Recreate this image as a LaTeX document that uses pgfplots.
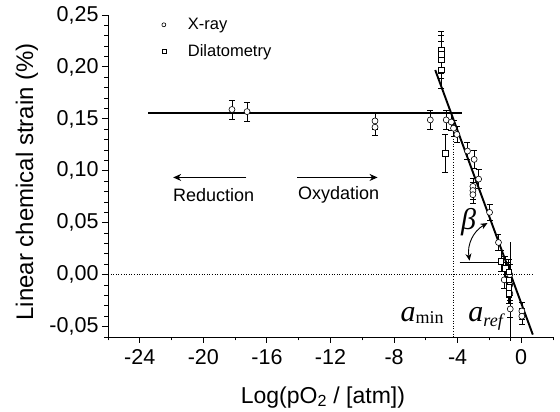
\documentclass[border=0pt]{standalone}
\usepackage{fontspec}
\setmainfont{Liberation Sans}
\newfontfamily\serif{Liberation Serif}
\usepackage{pgfplots}
\usepackage{pgfplotstable}
\pgfplotsset{compat=1.18}
\usetikzlibrary{arrows.meta}
\pgfplotstableread{
x y e
-18.2 0.159 0.009
-17.25 0.157 0.009
-9.2 0.148 0.008
-9.2 0.142 0.008
-5.72 0.149 0.009
-4.72 0.149 0.009
-4.4 0.147 0.008
-4.26 0.141 0.008
-4.05 0.135 0.008
-3.38 0.119 0.008
-2.96 0.111 0.009
-2.68 0.092 0.009
-3.04 0.085 0.008
-3.04 0.081 0.008
-3.04 0.077 0.008
-1.99 0.060 0.008
-1.43 0.031 0.008
-1.07 -0.005 0.008
-0.72 0.000 0.010
-0.72 -0.010 0.010
-0.72 -0.018 0.010
-0.69 -0.033 0.008
0.04 -0.035 0.008
0.04 -0.040 0.008
}\xray
\pgfplotstableread{
x y e
-5.03 0.216 0.018
-5.03 0.212 0.018
-5.03 0.207 0.018
-5.03 0.197 0.018
-4.78 0.117 0.018
-1.28 0.013 0.010
-1.0 0.006 0.012
-0.8 0.003 0.012
-0.8 -0.005 0.010
-0.8 -0.012 0.010
-0.8 -0.018 0.010
}\dila
\begin{document}
\begin{tikzpicture}
\path[use as bounding box] (-108pt,-75pt) rectangle (452pt,337pt);
\begin{axis}[
 at={(0,0)}, anchor=south west,
 scale only axis, width=445pt, height=322pt,
 xmin=-26, xmax=2, ymin=-0.06, ymax=0.25,
 clip=false,
 axis lines=left, axis line style={-, line width=0.9pt},
 tick align=outside, major tick length=6pt, minor tick length=3.5pt,
 tick style={line width=0.9pt, black},
 xtick={-24,-20,-16,-12,-8,-4,0}, xticklabels={-24,-20,-16,-12,-8,-4,0},
 minor xtick={-26,-22,-18,-14,-10,-6,-2,2},
 ytick={-0.05,0,0.05,0.1,0.15,0.2,0.25},
 yticklabels={{-0,05},{0,00},{0,05},{0,10},{0,15},{0,20},{0,25}},
 minor ytick={-0.06,-0.04,-0.03,-0.02,-0.01,0.01,0.02,0.03,0.04,0.06,0.07,0.08,0.09,0.11,0.12,0.13,0.14,0.16,0.17,0.18,0.19,0.21,0.22,0.23,0.24},
 ticklabel style={font=\fontsize{21.5}{25}\selectfont},
 xticklabel style={yshift=-3pt},
 xlabel={Log(pO\textsubscript{2} / [atm])},
 ylabel={Linear chemical strain (\%)},
 every axis x label/.style={font=\fontsize{23}{27}\selectfont, at={(axis description cs:0.483,-0.205)}, anchor=base},
 every axis y label/.style={font=\fontsize{24}{28}\selectfont, at={(axis description cs:-0.168,0.482)}, anchor=base, rotate=90},
 legend style={at={(axis cs:-23.19,0.2508)}, anchor=north west, draw=none, fill=none,
   font=\fontsize{16.5}{20}\selectfont, row sep=9pt},
 legend cell align=left,
]
\addplot[only marks, mark=*, mark size=3pt, mark options={fill=white, draw=black, line width=0.6pt},
 legend image code/.code={\path[draw=none] (0pt,0pt) -- (30pt,0pt); \draw[black, line width=0.6pt] plot[only marks, mark=*, mark size=2pt, mark options={fill=white}] coordinates {(8pt,0pt)};},
 error bars/.cd, y dir=both, y explicit, error bar style={line width=0.6pt, black},
 error mark options={rotate=90, mark size=3pt, line width=0.6pt, black}]
 table[x=x, y=y, y error=e] {\xray};
\addlegendentry{X-ray}
\addplot[only marks, mark=square*, mark size=2.7pt, mark options={fill=white, draw=black, line width=0.6pt},
 legend image code/.code={\path[draw=none] (0pt,0pt) -- (30pt,0pt); \draw[black, line width=0.6pt] plot[only marks, mark=square*, mark size=2pt, mark options={fill=white}] coordinates {(8pt,0pt)};},
 error bars/.cd, y dir=both, y explicit, error bar style={line width=0.6pt, black},
 error mark options={rotate=90, mark size=3pt, line width=0.6pt, black}]
 table[x=x, y=y, y error=e] {\dila};
\addlegendentry{Dilatometry}
% fit lines
\addplot[forget plot, black, line width=2.2pt] coordinates {(-23.46,0.156) (-3.73,0.156)};
\addplot[forget plot, black, line width=1.9pt] coordinates {(-5.41,0.197) (0.73,-0.0577)};
% reference lines
\addplot[forget plot, black, line width=0.6pt, dotted] coordinates {(-26,0) (0.67,0)};
\addplot[forget plot, black, line width=0.6pt, dotted] coordinates {(-4.3,0.151) (-4.3,-0.06)};
\addplot[forget plot, black, line width=0.8pt] coordinates {(-0.69,0.031) (-0.69,-0.064)};
\addplot[forget plot, black, line width=0.9pt] coordinates {(-3.88,0.0118) (-0.69,0.0118)};
% arrows
\addplot[forget plot, black, line width=1pt, -{Stealth[length=8pt,width=7pt]}] coordinates {(-17.3,0.0936) (-21.9,0.0936)};
\addplot[forget plot, black, line width=1pt, -{Stealth[length=8pt,width=7pt]}] coordinates {(-14.1,0.0936) (-9.04,0.0936)};
\draw[black, line width=0.9pt, {Stealth[length=7pt,width=6pt]}-{Stealth[length=7pt,width=6pt]}] (axis cs:-3.25,0.0135) to[bend left=35] (axis cs:-2.12,0.0497);
% texts
\node[font=\fontsize{18}{21}\selectfont] at (axis cs:-19.35,0.077) {Reduction};
\node[font=\fontsize{18}{21}\selectfont] at (axis cs:-11.49,0.077) {Oxydation};
\node[font=\serif\fontsize{30}{32}\selectfont\itshape] at (axis cs:-3.31,0.051) {β};
\node[anchor=base west, inner sep=0pt] at (axis cs:-7.6,-0.0455) {{\serif\fontsize{30}{32}\selectfont\itshape a}{\serif\fontsize{18}{20}\selectfont\raisebox{-2pt}{min}}};
\node[anchor=base west, inner sep=0pt] at (axis cs:-3.33,-0.0455) {{\serif\fontsize{30}{32}\selectfont\itshape a}{\serif\fontsize{18}{20}\selectfont\itshape\raisebox{-5pt}{ref}}};
\end{axis}
\end{tikzpicture}
\end{document}
